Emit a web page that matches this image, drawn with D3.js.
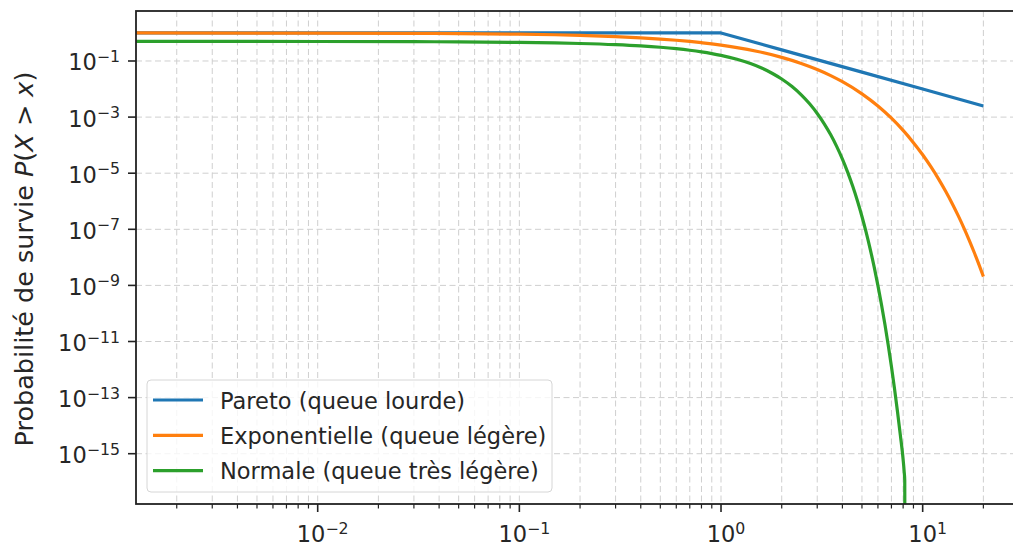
<!DOCTYPE html>
<html>
<head>
<meta charset="utf-8">
<script src="https://cdn.jsdelivr.net/npm/d3@7"></script>
<style>
  html, body { margin: 0; padding: 0; background: #fff; }
  svg { display: block; font-family: "DejaVu Sans", sans-serif; }
</style>
</head>
<body>
<svg id="chart" width="1013" height="550"></svg>
<script>
// Survival functions P(X > x) of three distributions
const paretoX = [0.001, 1, 2, 5, 10, 20];
const paretoY = [1, 1, 0.25, 0.04, 0.01, 0.0025];

const expoX = [0.001, 0.01, 0.03, 0.05, 0.1, 0.15, 0.2, 0.3, 0.4, 0.5, 0.6, 0.7, 0.8, 0.9, 1, 1.2, 1.5, 2, 2.5, 3, 3.5, 4, 5, 6, 7, 8, 9, 10, 11, 12, 13, 14, 15, 16, 17, 18, 19, 20];
const expoY = [0.999, 0.990, 0.970, 0.951, 0.905, 0.861, 0.819, 0.741, 0.670, 0.607, 0.549, 0.497, 0.449, 0.407, 0.368, 0.301, 0.223, 0.135, 0.0821, 0.0498, 0.0302, 0.0183, 6.74e-3, 2.48e-3, 9.12e-4, 3.35e-4, 1.23e-4, 4.54e-5, 1.67e-5, 6.14e-6, 2.26e-6, 8.32e-7, 3.06e-7, 1.13e-7, 4.14e-8, 1.52e-8, 5.60e-9, 2.06e-9];

const normX = [0.001, 0.01, 0.03, 0.05, 0.1, 0.15, 0.2, 0.3, 0.4, 0.5, 0.6, 0.7, 0.8, 0.9, 1.0, 1.2, 1.4, 1.6, 1.8, 2.0, 2.25, 2.5, 2.75, 3.0, 3.25, 3.5, 3.75, 4.0, 4.25, 4.5, 4.75, 5.0, 5.25, 5.5, 5.75, 6.0, 6.25, 6.5, 6.75, 7.0, 7.25, 7.5, 7.75, 8.0, 8.1, 8.15, 8.17];
const normY = [0.4996, 0.496, 0.488, 0.4801, 0.4602, 0.4404, 0.4207, 0.3821, 0.3446, 0.3085, 0.2743, 0.2420, 0.2119, 0.1841, 0.1587, 0.1151, 0.0808, 0.0548, 0.0359, 0.02275, 0.01222, 0.00621, 0.00298, 0.00135, 5.77e-4, 2.33e-4, 8.84e-5, 3.17e-5, 1.07e-5, 3.40e-6, 1.02e-6, 2.87e-7, 7.61e-8, 1.90e-8, 4.46e-9, 9.87e-10, 2.05e-10, 4.02e-11, 7.41e-12, 1.28e-12, 2.09e-13, 3.19e-14, 4.60e-15, 6.22e-16, 2.22e-16, 1.11e-16, 0];

const seriesNames = ["Pareto (queue lourde)", "Exponentielle (queue légère)", "Normale (queue très légère)"];
const seriesColors = ["#1f77b4", "#ff7f0e", "#2ca02c"];

const xMajorExp = [-2, -1, 0, 1];
const yMajorExp = [-1, -3, -5, -7, -9, -11, -13, -15];
const minorSubs = [2, 3, 4, 5, 6, 7, 8, 9];

const xLimits = [Math.pow(10, -2.901), Math.pow(10, 1.5)];
const yLimits = [Math.pow(10, -16.793), Math.pow(10, 0.7825)];
const yLabelText = "Probabilité de survie ";

const margin = { left: 136, top: 11, right: 1023.5, bottom: 504 };
const fs = 22.5;
const fsLabel = 25.5;

const svg = d3.select("#chart");

const x = d3.scaleLog().domain(xLimits).range([margin.left, margin.right]);
const y = d3.scaleLog().domain(yLimits).range([margin.bottom, margin.top]);

svg.append("defs").append("clipPath").attr("id", "plotclip")
  .append("rect")
  .attr("x", margin.left).attr("y", margin.top)
  .attr("width", margin.right - margin.left)
  .attr("height", margin.bottom - margin.top);

// grid
const grid = svg.append("g").attr("clip-path", "url(#plotclip)");
const xGridVals = [];
for (let e = -3; e <= 1; e++) {
  xGridVals.push(Math.pow(10, e));
  minorSubs.forEach(s => xGridVals.push(s * Math.pow(10, e)));
}
const xGridIn = xGridVals.filter(v => v >= xLimits[0] && v <= xLimits[1]);
grid.selectAll("line.vg").data(xGridIn).join("line")
  .attr("x1", d => x(d)).attr("x2", d => x(d))
  .attr("y1", margin.top).attr("y2", margin.bottom)
  .attr("stroke", "#cfcfcf").attr("stroke-width", 1)
  .attr("stroke-dasharray", "6,3.5");
grid.selectAll("line.hg").data(yMajorExp).join("line")
  .attr("x1", margin.left).attr("x2", margin.right)
  .attr("y1", d => y(Math.pow(10, d))).attr("y2", d => y(Math.pow(10, d)))
  .attr("stroke", "#cfcfcf").attr("stroke-width", 1)
  .attr("stroke-dasharray", "6,3.5");

// curves: Pareto is piecewise straight in log-log, the others are smooth
const series = [
  { xs: paretoX, ys: paretoY, curve: d3.curveLinear },
  { xs: expoX, ys: expoY, curve: d3.curveMonotoneX },
  { xs: normX, ys: normY, curve: d3.curveMonotoneX }
];

const plot = svg.append("g").attr("clip-path", "url(#plotclip)");
series.forEach((s, i) => {
  const pts = s.xs.map((v, k) => [v, s.ys[k]]);
  const line = d3.line()
    .x(d => x(d[0]))
    .y(d => y(d[1] > 0 ? d[1] : yLimits[0] * 1e-3))
    .curve(s.curve);
  plot.append("path")
    .attr("d", line(pts))
    .attr("fill", "none")
    .attr("stroke", seriesColors[i])
    .attr("stroke-width", 3.2)
    .attr("stroke-linejoin", "round")
    .attr("stroke-linecap", "butt");
});

// power-of-ten label with superscript
function powLabel(sel, e) {
  sel.append("tspan").text("10");
  sel.append("tspan")
    .attr("font-size", fs * 0.7)
    .attr("dy", -8.5)
    .text((e < 0 ? "\u2212" : "") + Math.abs(e));
}

// y ticks
const yt = svg.append("g");
yMajorExp.forEach(e => {
  const py = y(Math.pow(10, e));
  yt.append("line").attr("x1", margin.left - 8).attr("x2", margin.left)
    .attr("y1", py).attr("y2", py).attr("stroke", "#222").attr("stroke-width", 1.6);
  const t = yt.append("text").attr("x", margin.left - 16).attr("y", py + 9.5)
    .attr("text-anchor", "end").attr("font-size", fs).attr("fill", "#262626");
  powLabel(t, e);
});

// x ticks
const xt = svg.append("g");
xGridIn.forEach(v => {
  const isMajor = Math.abs(Math.log10(v) - Math.round(Math.log10(v))) < 1e-9;
  xt.append("line").attr("x1", x(v)).attr("x2", x(v))
    .attr("y1", margin.bottom).attr("y2", margin.bottom + (isMajor ? 8 : 4.5))
    .attr("stroke", "#222").attr("stroke-width", isMajor ? 1.6 : 1.2);
});
xMajorExp.forEach(e => {
  const t = xt.append("text").attr("x", x(Math.pow(10, e)) + 5).attr("y", 542)
    .attr("text-anchor", "middle").attr("font-size", fs).attr("fill", "#262626");
  powLabel(t, e);
});

// spines
svg.append("rect")
  .attr("x", margin.left).attr("y", margin.top)
  .attr("width", margin.right - margin.left)
  .attr("height", margin.bottom - margin.top)
  .attr("fill", "none").attr("stroke", "#222").attr("stroke-width", 1.8);

// y axis label
const yl = svg.append("text")
  .attr("transform", "translate(33, 259) rotate(-90)")
  .attr("text-anchor", "middle").attr("font-size", fsLabel).attr("fill", "#262626");
yl.append("tspan").text(yLabelText);
yl.append("tspan").attr("font-style", "italic").text("P");
yl.append("tspan").text("(");
yl.append("tspan").attr("font-style", "italic").text("X");
yl.append("tspan").text(" > ");
yl.append("tspan").attr("font-style", "italic").text("x");
yl.append("tspan").text(")");

// legend
const lg = svg.append("g");
lg.append("rect")
  .attr("x", 147).attr("y", 380).attr("width", 405).attr("height", 112)
  .attr("rx", 4).attr("fill", "#fff").attr("fill-opacity", 0.8)
  .attr("stroke", "#d6d6d6").attr("stroke-width", 1);
seriesNames.forEach((name, i) => {
  const cy = 400 + i * 35.3;
  lg.append("line").attr("x1", 153).attr("x2", 203)
    .attr("y1", cy).attr("y2", cy)
    .attr("stroke", seriesColors[i]).attr("stroke-width", 3.2);
  lg.append("text").attr("x", 220).attr("y", cy + 8.5)
    .attr("font-size", fs).attr("fill", "#262626").text(name);
});
</script>
</body>
</html>
